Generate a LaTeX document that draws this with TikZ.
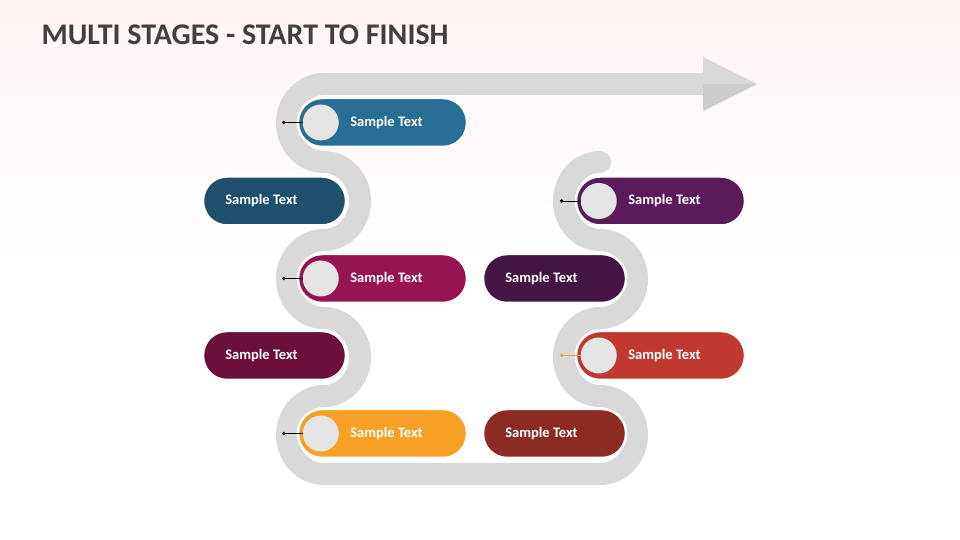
\documentclass[tikz,border=0pt]{standalone}
\usepackage{fontspec}
\setmainfont{Carlito}
\begin{document}
\begin{tikzpicture}[x=1pt,y=1pt,
  pill/.style={draw=white,line width=2.5pt,rounded corners=24pt,minimum width=#1,minimum height=49pt,inner sep=0pt},
  ptext/.style={text=white,font=\bfseries\fontsize{14.5}{16}\selectfont,anchor=west},
  disc/.style={circle,fill=black!10,minimum size=36pt,inner sep=0pt},
  road/.style={draw=black!15,line width=22pt}]
\definecolor{cA}{HTML}{276D94}\definecolor{cB}{HTML}{1F4F6B}
\definecolor{cC}{HTML}{951451}\definecolor{cD}{HTML}{6B0F3B}
\definecolor{cE}{HTML}{F4A126}\definecolor{cF}{HTML}{5C1A5B}
\definecolor{cG}{HTML}{431444}\definecolor{cH}{HTML}{C0392F}
\definecolor{cI}{HTML}{8C2B24}
\shade[top color=red!4!white,bottom color=white] (0,540) rectangle (960,270);
\fill[white] (0,270) rectangle (960,0);
\useasboundingbox (0,0) rectangle (960,540);
\node[anchor=west,text=black!75,font=\bfseries\fontsize{30}{34}\selectfont] (title) at (38,505) {MULTI STAGES - START TO FINISH};
% road
\draw[road,line cap=round] (706,456) -- (324,456)
  arc[start angle=90,end angle=270,x radius=37,y radius=39]
  arc[start angle=90,end angle=-90,x radius=36,y radius=39]
  arc[start angle=90,end angle=270,x radius=37,y radius=39]
  arc[start angle=90,end angle=-90,x radius=36,y radius=39]
  arc[start angle=90,end angle=270,x radius=37,y radius=39]
  -- (600,66)
  arc[start angle=-90,end angle=90,x radius=37,y radius=39]
  arc[start angle=-90,end angle=-270,x radius=36,y radius=39]
  arc[start angle=-90,end angle=90,x radius=37,y radius=39]
  arc[start angle=-90,end angle=-270,x radius=36,y radius=39];
\coordinate (t1) at (703,483);\coordinate (t2) at (757,456);\coordinate (t3) at (703,429);
\fill[black!15] (t1) -- (t2) -- (t3) -- cycle;
\fill[black!20] (t2) -- (t3) -- (703,456) -- cycle;
% pills
\node[pill=169pt,fill=cA] (p1) at (382.5,417.5) {};
\node[pill=143pt,fill=cB] (p2) at (274.5,339) {};
\node[pill=169pt,fill=cC] (p3) at (382.5,261.5) {};
\node[pill=143pt,fill=cD] (p4) at (274.5,184.5) {};
\node[pill=169pt,fill=cE] (p5) at (382.5,106.5) {};
\node[pill=169pt,fill=cF] (p6) at (660.5,339) {};
\node[pill=143pt,fill=cG] (p7) at (554.5,261.5) {};
\node[pill=169pt,fill=cH] (p8) at (660.5,184.5) {};
\node[pill=143pt,fill=cI] (p9) at (554.5,106.5) {};
\foreach \p/\c in {p1/black,p3/black,p5/black,p6/black,p8/cE}{
  \node[disc] (d\p) at ([xshift=24pt]\p.west) {};
  \coordinate (k\p) at ([xshift=-13pt]\p.west);
  \draw[\c,line width=0.8pt] (k\p) -- (d\p.west);
  \fill[\c] (k\p) circle (1.8pt);
  \node[ptext] (s\p) at ([xshift=50pt]\p.west) {Sample Text};
}
\foreach \p in {p2,p4,p7,p9}{
  \node[ptext] (s\p) at ([xshift=20pt]\p.west) {Sample Text};
}
\end{tikzpicture}
\end{document}
